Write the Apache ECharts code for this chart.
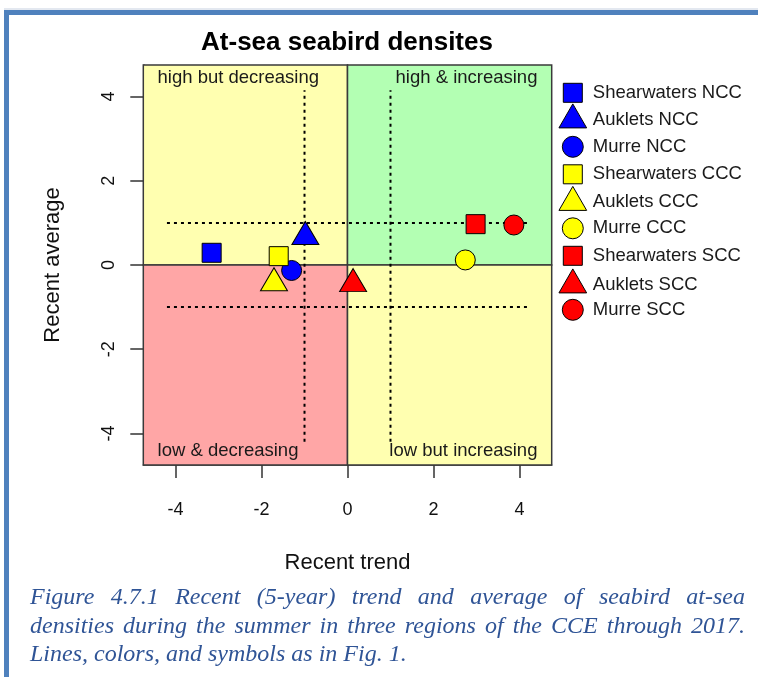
<!DOCTYPE html>
<html>
<head>
<meta charset="utf-8">
<script src="https://cdn.jsdelivr.net/npm/echarts@6/dist/echarts.min.js"></script>
<style>
html,body{margin:0;padding:0;background:#fff;width:758px;height:677px;overflow:hidden;}
#chart{position:absolute;left:0;top:0;width:758px;height:677px;}
#caption{position:absolute;left:30px;top:582px;width:715px;font-family:'Liberation Serif','Times New Roman',serif;font-style:italic;font-size:24px;line-height:28.5px;color:#2F5496;}
#caption .j{text-align:justify;text-align-last:justify;}
</style>
</head>
<body>
<div id="chart"></div>
<div id="caption"></div>
<script>
// ---- data ----
const seriesNames = ['Shearwaters NCC', 'Auklets NCC', 'Murre NCC',
                     'Shearwaters CCC', 'Auklets CCC', 'Murre CCC',
                     'Shearwaters SCC', 'Auklets SCC', 'Murre SCC'];
const trendValues   = [-3.16, -0.98, -1.30, -1.60, -1.71, 2.74, 2.98, 0.13, 3.87];
const averageValues = [ 0.29,  0.67, -0.13,  0.21, -0.43, 0.12, 0.97, -0.45, 0.95];
const tickValues = [-4, -2, 0, 2, 4];
const axisRange = [-4.75, 4.75];
const guideLevels = [-1, 1];
const guideSpanX = [-4.2, 4.2];
const guideSpanY = [-4.2, 4.15];
const quadrantLabels = ['high but decreasing', 'high & increasing', 'low & decreasing', 'low but increasing'];
const chartTitle = 'At-sea seabird densites';
const xAxisTitle = 'Recent trend';
const yAxisTitle = 'Recent average';
const captionLines = [
  'Figure 4.7.1 Recent (5-year) trend and average of seabird at-sea',
  'densities during the summer in three regions of the CCE through 2017.',
  'Lines, colors, and symbols as in Fig. 1.'
];

// ---- styles ----
const FONT = "'Liberation Sans', Arial, sans-serif";
const regionColors = ['#0000FF', '#FFFF00', '#FF0000'];
const shapes = ['rect', 'triangle', 'circle'];
const shapeSizes = [19, [27, 23], 20];
const shapeOffsets = [[0, 0], [0, '-16.7%'], [0, 0]];
// triangle icon carries an invisible move-to point below it so its centroid sits on the row centre
const legendIcons = ['path://M0 0H1V1H0Z', 'path://M0 24L13.85 0L27.7 24Z M13.85 32', 'circle'];
const legendIconW = [19, 27.7, 21];
const legendIconH = [19, 32, 21];
const legendIconCenterX = 572.3;
const legendTextX = 592.3;
const legendRowH = 32;
const legendPitch = 81.5;
const legendFirstRow = [92.8, 119.4, 146.8];
const quadFill = ['#FFFFB0', '#B3FFB3', '#FFA6A6', '#FFFFB0'];

const caption = document.getElementById('caption');
captionLines.forEach((t, i) => {
  const d = document.createElement('div');
  d.textContent = t;
  if (i < captionLines.length - 1) d.className = 'j';
  caption.appendChild(d);
});

const quadBounds = [
  [[axisRange[0], 0], [0, axisRange[1]]],
  [[0, 0], [axisRange[1], axisRange[1]]],
  [[axisRange[0], axisRange[0]], [0, 0]],
  [[0, axisRange[0]], [axisRange[1], 0]]
];
const quadLabelPos = [
  {position: 'insideTopLeft', offset: [15, 4]},
  {position: 'insideTopRight', offset: [-15, 4]},
  {position: 'insideBottomLeft', offset: [15, -5]},
  {position: 'insideBottomRight', offset: [-15, -5]}
];

const series = [];
series.push({
  type: 'scatter', name: '_bg', data: [], silent: true, z: 1,
  markArea: {
    silent: true,
    data: quadBounds.map((b, i) => [
      {
        xAxis: b[0][0], yAxis: b[0][1],
        itemStyle: {color: quadFill[i], borderColor: '#3a3a3a', borderWidth: 1.5, opacity: 1},
        label: Object.assign({show: true, distance: 0, formatter: quadrantLabels[i],
          fontSize: 18.5, fontFamily: FONT, color: '#1a1a1a'}, quadLabelPos[i])
      },
      {xAxis: b[1][0], yAxis: b[1][1]}
    ])
  }
});
const guideStyle = {color: '#000', width: 2, type: [3, 4]};
guideLevels.forEach(lv => {
  series.push({type: 'line', name: '_h' + lv, silent: true, z: 2, showSymbol: false, symbol: 'none',
    data: [[guideSpanX[0], lv], [guideSpanX[1], lv]], lineStyle: guideStyle});
  series.push({type: 'line', name: '_v' + lv, silent: true, z: 2, showSymbol: false, symbol: 'none',
    data: [[lv, guideSpanY[0]], [lv, guideSpanY[1]]], lineStyle: guideStyle});
});
seriesNames.forEach((name, i) => {
  const s = i % 3, r = Math.floor(i / 3);
  series.push({
    type: 'scatter', name: name, z: 5,
    data: [[trendValues[i], averageValues[i]]],
    symbol: shapes[s], symbolSize: shapeSizes[s], symbolOffset: shapeOffsets[s],
    itemStyle: {color: regionColors[r], borderColor: '#000', borderWidth: 1, opacity: 1}
  });
});

// legend box is laid out from the icon's own left edge, so anchor each legend at that edge
const legendItemW = 2 * (legendTextX - 5 - legendIconCenterX);
const legends = [0, 1, 2].map(s => ({
  orient: 'vertical', left: legendIconCenterX - legendIconW[s] / 2, top: legendFirstRow[s] - legendRowH / 2, padding: 0,
  itemWidth: legendItemW, itemHeight: legendIconH[s], itemGap: legendPitch - legendRowH,
  symbolKeepAspect: true, selectedMode: false,
  textStyle: {fontSize: 18.5, fontFamily: FONT, color: '#1a1a1a', lineHeight: legendRowH},
  data: [0, 1, 2].map(r => ({
    name: seriesNames[r * 3 + s], icon: legendIcons[s],
    itemStyle: {color: regionColors[r], borderColor: '#000', borderWidth: 1}
  }))
}));

const axisCommon = {
  type: 'value', min: axisRange[0], max: axisRange[1],
  axisLine: {show: true, onZero: false, lineStyle: {color: '#3a3a3a', width: 1.5}},
  splitLine: {show: false},
  axisTick: {show: true, length: 13, customValues: tickValues, lineStyle: {color: '#333', width: 1.5}},
  nameLocation: 'middle',
  nameTextStyle: {fontSize: 22, fontFamily: FONT, color: '#111'}
};

const chart = echarts.init(document.getElementById('chart'), null, {renderer: 'canvas'});
chart.setOption({
  animation: false,
  backgroundColor: 'transparent',
  title: {text: chartTitle, left: 347, top: 30, textAlign: 'center', padding: 0,
    textStyle: {fontSize: 26, fontWeight: 'bold', fontFamily: FONT, color: '#000'}},
  grid: {left: 143.3, right: 206.3, top: 65, bottom: 212, outerBoundsMode: 'none', containLabel: false},
  xAxis: Object.assign({}, axisCommon, {
    name: xAxisTitle, nameGap: 87,
    axisLabel: {customValues: tickValues, fontSize: 18, fontFamily: FONT, color: '#111', margin: 36}
  }),
  yAxis: Object.assign({}, axisCommon, {
    name: yAxisTitle, nameGap: 79,
    axisLabel: {customValues: tickValues, fontSize: 18, fontFamily: FONT, color: '#111', margin: 25, rotate: 90}
  }),
  legend: legends,
  graphic: [
    {type: 'rect', silent: true, shape: {x: 4, y: 10, width: 5, height: 667}, style: {fill: '#4F81BD'}},
    {type: 'rect', silent: true, shape: {x: 4, y: 10, width: 754, height: 5}, style: {fill: '#4F81BD'}},
    {type: 'rect', silent: true, shape: {x: 4, y: 8.5, width: 754, height: 1}, style: {fill: '#C8D2E2'}}
  ],
  series: series
});
</script>
</body>
</html>
